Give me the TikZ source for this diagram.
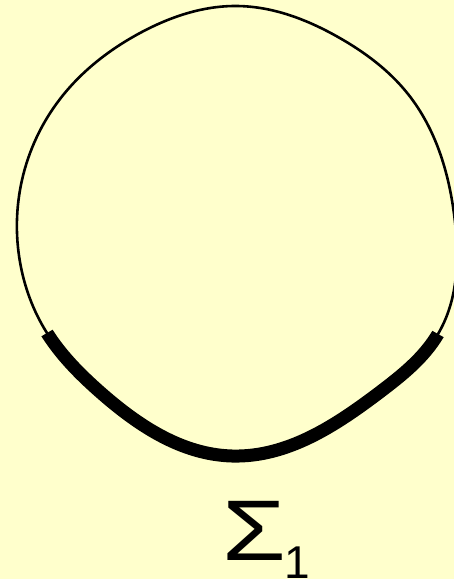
\documentclass[tikz,border=0pt]{standalone}
\usepackage{fontspec}
\setmainfont{Liberation Sans}
\usetikzlibrary{hobby}
\begin{document}
\begin{tikzpicture}[x=1pt,y=-1pt,
  thinline/.style={line width=2.6pt, black},
  thickline/.style={line width=13pt, black},
  use Hobby shortcut]
\fill[fill={rgb,255:red,255;green,255;blue,204}] (0,0) rectangle (454,579);
\useasboundingbox (0,0) rectangle (454,579);
\coordinate (p1) at (237,6);
\coordinate (p2) at (338,37);
\coordinate (p3) at (408,94);
\coordinate (p4) at (455,222);
\coordinate (p6) at (438,334);
\coordinate (p7) at (380,392);
\coordinate (p8) at (232,456);
\coordinate (p9) at (100,392);
\coordinate (p10) at (47,333);
\coordinate (p11) at (20,262);
\coordinate (p12) at (22,180);
\coordinate (p13) at (60,99);
\coordinate (p14) at (140,33);
\draw[thinline, closed=true] (p1) .. (p2) .. (p3) .. (p4) .. (p6) .. (p7) .. (p8)
  .. (p9) .. (p10) .. (p11) .. (p12) .. (p13) .. (p14);
\begin{scope}
\clip (-21,373) -- (149,273) -- (336,277) -- (506,372) -- (506,600) -- (-21,600) -- cycle;
\draw[thickline, closed=true] (p1) .. (p2) .. (p3) .. (p4) .. (p6) .. (p7) .. (p8)
  .. (p9) .. (p10) .. (p11) .. (p12) .. (p13) .. (p14);
\end{scope}
\node[anchor=base west, inner sep=0pt, font=\fontsize{86}{86}\selectfont] (sigma) at (222,560) {\scalebox{1.2}[1]{Σ}};
\node[anchor=base west, inner sep=0pt, font=\fontsize{46}{46}\selectfont] (one) at (sigma.base east) [xshift=-2pt, yshift=-18pt] {1};
\end{tikzpicture}
\end{document}
